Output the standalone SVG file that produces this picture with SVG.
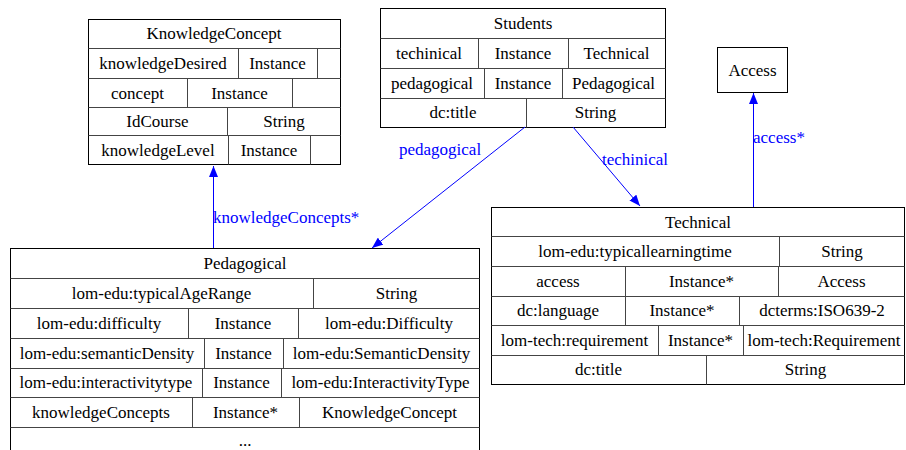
<svg xmlns="http://www.w3.org/2000/svg" width="906" height="450" viewBox="0 0 906 450">
<defs>
<style>
text{font-family:"Liberation Serif","Times New Roman",serif;font-size:17px;fill:#000;text-anchor:middle}
.box{fill:#fff;stroke:#000;stroke-width:1}
.cell{stroke:#444;stroke-width:1;fill:none}
.edge{stroke:#0000ff;stroke-width:1;fill:none}
.lbl{fill:#0000ff;text-anchor:start}
</style>
<marker id="arr" viewBox="0 0 11 9" refX="11" refY="4.5" markerWidth="11" markerHeight="9" markerUnits="userSpaceOnUse" orient="auto">
<path d="M0,0 L11,4.5 L0,9 Z" fill="#0000ff"/>
</marker>
</defs>
<rect width="906" height="450" fill="#fff"/>

<g id="KnowledgeConcept">
<rect class="box" x="88.5" y="19.5" width="252" height="145"/>
<path class="cell" d="M88.5,48.5H340.5M88.5,78.5H340.5M88.5,107.5H340.5M88.5,135.5H340.5M238.5,48.5V78.5M317.5,48.5V78.5M187.5,78.5V107.5M292.5,78.5V107.5M227.5,107.5V135.5M228.5,135.5V164.5M310.5,135.5V164.5"/>
<text x="214" y="39">KnowledgeConcept</text>
<text x="163" y="69">knowledgeDesired</text>
<text x="277.5" y="69">Instance</text>
<text x="137.5" y="99">concept</text>
<text x="239.5" y="99">Instance</text>
<text x="157.5" y="127">IdCourse</text>
<text x="284" y="127">String</text>
<text x="158" y="156">knowledgeLevel</text>
<text x="269" y="156">Instance</text>
</g>

<g id="Students">
<rect class="box" x="380.5" y="8.5" width="285" height="119"/>
<path class="cell" d="M380.5,38.5H665.5M380.5,68.5H665.5M380.5,98.5H665.5M478.5,38.5V68.5M568.5,38.5V68.5M484.5,68.5V98.5M562.5,68.5V98.5M526.5,98.5V127.5"/>
<text x="523" y="29">Students</text>
<text x="429" y="59">techinical</text>
<text x="523" y="59">Instance</text>
<text x="616.5" y="59">Technical</text>
<text x="432" y="89">pedagogical</text>
<text x="523" y="89">Instance</text>
<text x="613.5" y="89">Pedagogical</text>
<text x="453" y="118">dc:title</text>
<text x="595.5" y="118">String</text>
</g>

<g id="Access">
<rect class="box" x="717.5" y="47.5" width="70" height="45"/>
<text x="752.5" y="76">Access</text>
</g>

<g id="Pedagogical">
<rect class="box" x="10.5" y="248.5" width="469" height="215"/>
<path class="cell" d="M10.5,278.5H479.5M10.5,308.5H479.5M10.5,338.5H479.5M10.5,368.5H479.5M10.5,397.5H479.5M10.5,427.5H479.5M313.5,278.5V308.5M188.5,308.5V338.5M298.5,308.5V338.5M204.5,338.5V368.5M283.5,338.5V368.5M202.5,368.5V397.5M281.5,368.5V397.5M192.5,397.5V427.5M299.5,397.5V427.5"/>
<text x="245" y="269">Pedagogical</text>
<text x="161.5" y="299">lom-edu:typicalAgeRange</text>
<text x="396.5" y="299">String</text>
<text x="99" y="329">lom-edu:difficulty</text>
<text x="243" y="329">Instance</text>
<text x="389" y="329">lom-edu:Difficulty</text>
<text x="107" y="359">lom-edu:semanticDensity</text>
<text x="243.5" y="359">Instance</text>
<text x="381.5" y="359">lom-edu:SemanticDensity</text>
<text x="106" y="388">lom-edu:interactivitytype</text>
<text x="241.5" y="388">Instance</text>
<text x="380.5" y="388">lom-edu:InteractivityType</text>
<text x="101" y="418">knowledgeConcepts</text>
<text x="245.5" y="418">Instance*</text>
<text x="389.5" y="418">KnowledgeConcept</text>
<text x="245" y="446">...</text>
</g>

<g id="Technical">
<rect class="box" x="491.5" y="207.5" width="413" height="177"/>
<path class="cell" d="M491.5,236.5H904.5M491.5,266.5H904.5M491.5,296.5H904.5M491.5,325.5H904.5M491.5,355.5H904.5M779.5,236.5V266.5M625.5,266.5V296.5M778.5,266.5V296.5M625.5,296.5V325.5M739.5,296.5V325.5M658.5,325.5V355.5M743.5,325.5V355.5M706.5,355.5V384.5"/>
<text x="698" y="228">Technical</text>
<text x="635" y="257">lom-edu:typicallearningtime</text>
<text x="842" y="257">String</text>
<text x="558" y="287">access</text>
<text x="701.5" y="287">Instance*</text>
<text x="841.5" y="287">Access</text>
<text x="558" y="316">dc:language</text>
<text x="682" y="316">Instance*</text>
<text x="822" y="316">dcterms:ISO639-2</text>
<text x="574.5" y="346">lom-tech:requirement</text>
<text x="700.5" y="346">Instance*</text>
<text x="824" y="346">lom-tech:Requirement</text>
<text x="598.5" y="375">dc:title</text>
<text x="805.5" y="375">String</text>
</g>

<g id="connectors">
<line class="edge" x1="213.5" y1="248" x2="213.5" y2="166" marker-end="url(#arr)"/>
<text class="lbl" x="213" y="223">knowledgeConcepts*</text>
<line class="edge" x1="525" y1="127" x2="372" y2="248" marker-end="url(#arr)"/>
<text class="lbl" x="399" y="155">pedagogical</text>
<line class="edge" x1="573" y1="127" x2="640" y2="206" marker-end="url(#arr)"/>
<text class="lbl" x="602" y="165">techinical</text>
<line class="edge" x1="753.5" y1="207" x2="753.5" y2="93" marker-end="url(#arr)"/>
<text class="lbl" x="753" y="143">access*</text>
</g>
</svg>
